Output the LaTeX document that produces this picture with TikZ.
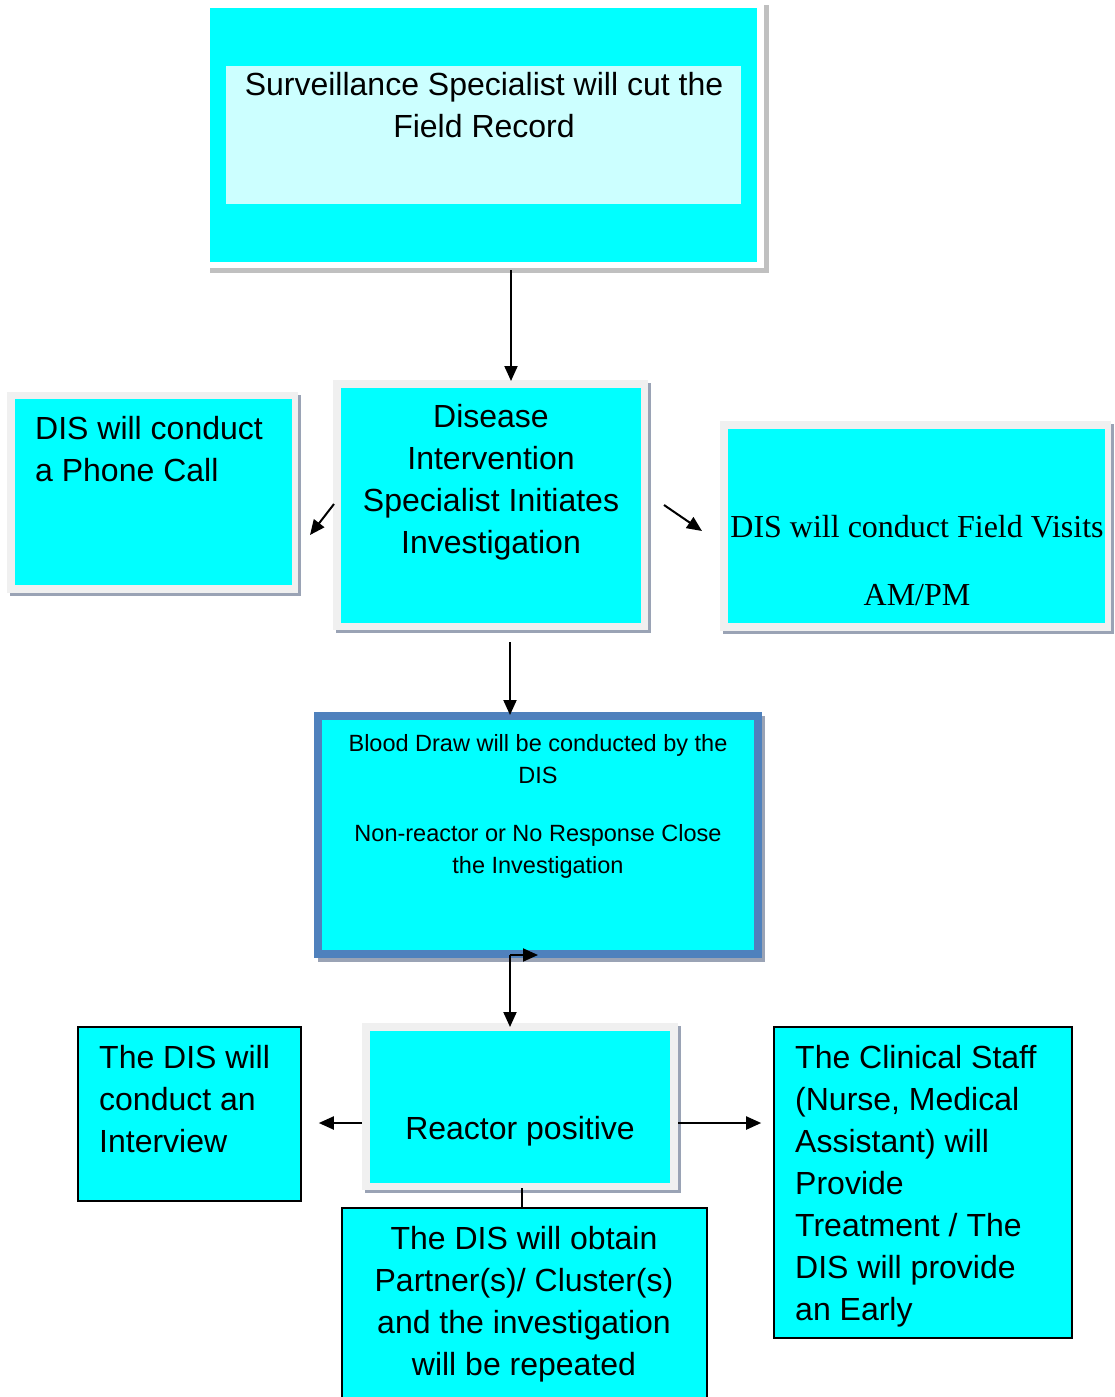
\documentclass[tikz,border=0pt]{standalone}
\usepackage{fontspec}
\setmainfont{Liberation Sans}
\newfontfamily\timesf{Liberation Serif}
\usetikzlibrary{arrows.meta,calc}
\definecolor{cy}{HTML}{00FFFF}
\definecolor{lcy}{HTML}{CCFFFF}
\definecolor{frm}{HTML}{F0F0F0}
\definecolor{shd}{HTML}{9AA3B5}
\definecolor{shdg}{HTML}{C0C0C0}
\definecolor{bdr}{HTML}{4F81BD}
\begin{document}
\begin{tikzpicture}[x=1pt,y=-1pt,
  txt/.style={font=\fontsize{32}{42}\selectfont, inner sep=0pt, align=center},
  ltxt/.style={font=\fontsize{32}{42}\selectfont, inner sep=0pt, align=left, anchor=west},
  stxt/.style={font=\fontsize{23.5}{32}\selectfont, inner sep=0pt, align=center},
  serif/.style={font=\timesf\fontsize{32}{38}\selectfont, inner sep=0pt},
  arr/.style={line width=2pt, -{Triangle[length=15pt,width=13pt]}},
  plain/.style={line width=2pt},
  bbox/.style={draw=black, line width=1.6pt, fill=cy}
]
\useasboundingbox (0,0) rectangle (1115,1397);
\clip (0,0) rectangle (1115,1397);
% ---------- top box
\fill[shdg] (210,5) rectangle (769,273);
\fill[white] (205,3) rectangle (764,268);
\fill[cy] (210,8) rectangle (757,262);
\fill[lcy] (226,66) rectangle (741,204);
\coordinate (topS) at (511,270);
\node[txt] (toptext) at (484,105) {Surveillance Specialist will cut the\\Field Record};
% ---------- middle box
\fill[shd] (336,383) rectangle (651,633);
\fill[frm] (333,380) rectangle (648,630);
\fill[cy] (341,388) rectangle (641,623);
\coordinate (midN) at (511,381);
\coordinate (midS) at (510,642);
\coordinate (midW) at (334,504);
\coordinate (midE) at (664,505);
\node[txt] (midtext) at (491,482) {Disease\\Intervention\\Specialist Initiates\\Investigation};
% ---------- left box
\fill[shd] (10,395) rectangle (301,596);
\fill[frm] (7,392) rectangle (298,593);
\fill[cy] (15,399) rectangle (292,585);
\coordinate (leftE) at (310,535);
\node[ltxt] (lefttext) at (35,449) {DIS will conduct\\a Phone Call};
% ---------- right box
\fill[shd] (723,424) rectangle (1114,634);
\fill[frm] (720,421) rectangle (1111,631);
\fill[cy] (728,429) rectangle (1105,623);
\coordinate (rightW) at (702,531);
\node[serif] (righttext1) at (917,527) {DIS will conduct Field Visits};
\node[serif] (righttext2) at (917,595) {AM/PM};
% ---------- blood draw box
\fill[shd] (318,716) rectangle (765,962);
\fill[bdr] (314,712) rectangle (762,958);
\fill[cy] (322,720) rectangle (754,950);
\coordinate (bloodN) at (510,715);
\coordinate (bloodS) at (510,955);
\coordinate (bloodR) at (538,955);
\node[stxt] (bloodtext1) at (538,759) {Blood Draw will be conducted by the\\DIS};
\node[stxt] (bloodtext2) at (538,851) {Non-reactor or No Response Close\\the Investigation};
% ---------- reactor box
\fill[shd] (365,1026) rectangle (681,1193);
\fill[frm] (362,1023) rectangle (678,1190);
\fill[cy] (370,1031) rectangle (670,1183);
\coordinate (reactN) at (510,1027);
\coordinate (reactW) at (362,1123);
\coordinate (reactE) at (678,1123);
\coordinate (reactS) at (522,1188);
\node[txt] (reacttext) at (520,1131) {Reactor positive};
% ---------- interview box
\node[bbox, minimum width=223pt, minimum height=174pt, inner sep=0pt] (interview) at (189.5,1114) {};
\node[ltxt] (inttext) at (99,1099) {The DIS will\\conduct an\\Interview};
% ---------- clinical box
\node[bbox, minimum width=298pt, minimum height=311pt, inner sep=0pt] (clinical) at (923,1182.5) {};
\node[ltxt] (clintext) at (795,1186.5) {The Clinical Staff\\(Nurse, Medical\\Assistant) will\\Provide\\Treatment / The\\DIS will provide\\an Early};
% ---------- partners box
\node[bbox, minimum width=365pt, minimum height=202pt, inner sep=0pt] (partners) at (524.5,1309) {};
\node[txt] (parttext) at (524,1304) {The DIS will obtain\\Partner(s)/ Cluster(s)\\and the investigation\\will be repeated};
% ---------- connectors
\draw[arr] (topS) -- (midN);
\draw[arr] (midW) -- (leftE);
\draw[arr] (midE) -- (rightW);
\draw[arr] (midS) -- (bloodN);
\draw[arr] (bloodS) -- (reactN);
\draw[arr] (bloodS) -- (bloodR);
\draw[arr] (reactW) -- ($(interview.east |- reactW)+(17,0)$);
\draw[arr] (reactE) -- ($(clinical.west |- reactE)+(-12,0)$);
\draw[plain] (reactS) -- (reactS |- partners.north);
\end{tikzpicture}
\end{document}
